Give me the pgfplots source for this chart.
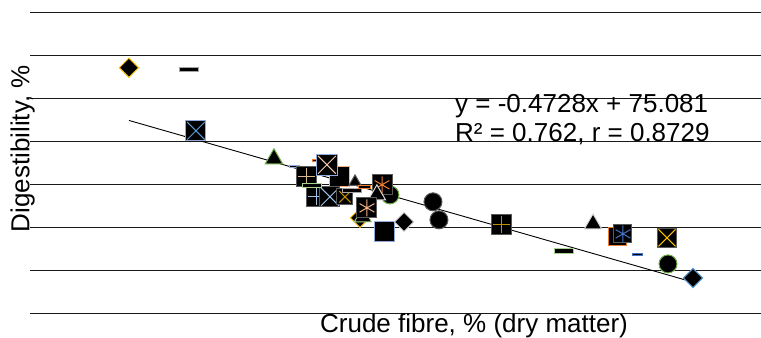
\documentclass[border=0pt]{standalone}
\usepackage{pgfplots}
\pgfplotsset{compat=1.18}
\usepackage{fontspec}
\setmainfont{Liberation Sans}
\definecolor{cgold}{HTML}{FFC000}
\definecolor{cdgold}{HTML}{BF9000}
\definecolor{corange}{HTML}{ED7D31}
\definecolor{cblue}{HTML}{4472C4}
\definecolor{clblue}{HTML}{5B9BD5}
\definecolor{cgreen}{HTML}{70AD47}
\definecolor{cgray}{HTML}{A5A5A5}
\definecolor{clgreen}{HTML}{A9D18E}
\definecolor{cpink}{HTML}{F4B183}
\definecolor{cbeige}{HTML}{F8CBAD}
\definecolor{ctan}{HTML}{D6B98C}
\definecolor{cllblue}{HTML}{9DC3E6}
\definecolor{cbgray}{HTML}{8FAADC}
\definecolor{clgray}{HTML}{D9D9D9}
\definecolor{cdgray}{HTML}{595959}
\pgfdeclareplotmark{dashmark}{%
  \pgfpathrectangle{\pgfqpoint{-\pgfplotmarksize}{-0.22\pgfplotmarksize}}{\pgfqpoint{2\pgfplotmarksize}{0.44\pgfplotmarksize}}%
  \pgfusepathqfillstroke}
\pgfplotsset{
  sq/.style={only marks, mark=square*, mark size=10bp, mark options={solid, fill=black, draw=#1, line width=1bp}},
  dm/.style={only marks, mark=square*, mark size=6.8bp, mark options={solid, rotate=45, fill=black, draw=#1, line width=1bp}},
  tr/.style={only marks, mark=triangle*, mark size=10bp, mark options={solid, fill=black, draw=#1, line width=1bp}},
  ci/.style={only marks, mark=*, mark size=9bp, mark options={solid, fill=black, draw=#1, line width=1bp}},
  ds/.style={only marks, mark=dashmark, mark size=9.5bp, mark options={solid, fill=black, draw=#1, line width=1bp}},
  xx/.style={only marks, mark=x, mark size=12.5bp, mark options={solid, draw=#1, line width=1bp}},
  pl/.style={only marks, mark=+, mark size=8.5bp, mark options={solid, draw=#1, line width=1bp}},
  as/.style={only marks, mark=asterisk, mark size=8.5bp, mark options={solid, draw=#1, line width=1bp}},
}
\begin{document}
\fontsize{26bp}{30bp}\selectfont
\begin{tikzpicture}
\begin{axis}[
  scale only axis, width=731bp, height=301.4bp,
  xmin=19.76, xmax=71.24, ymin=40, ymax=75,
  axis line style={draw=none},
  tick style={draw=none},
  major tick length=0pt,
  ytick={40,45,...,75}, yticklabels={},
  xtick=\empty,
  ymajorgrids, grid style={black!90, line width=1.2bp},
  clip=false,
]
% left outliers
\addplot[dm=cgold] coordinates {(26.73,68.57)};
\addplot[ds=cgray] coordinates {(30.96,68.34)};
\addplot[sq=cbgray] coordinates {(31.45,61.24)};
\addplot[xx=clblue] coordinates {(31.45,61.24)};
\addplot[tr=cgreen] coordinates {(36.94,57.99)};
\addplot[ds=cbgray, mark size=5bp] coordinates {(38.42,57.06)};
% cluster
\addplot[sq=cdgray] coordinates {(39.26,55.90)};
\addplot[pl=ctan] coordinates {(39.26,55.90)};
\addplot[ds=corange, mark size=6bp] coordinates {(40.10,57.80)};
\addplot[sq=cpink] coordinates {(41.59,55.90)};
\addplot[sq=cbgray, mark size=10.5bp] coordinates {(40.67,57.29)};
\addplot[xx=cbeige] coordinates {(40.67,57.29)};
\addplot[sq=cdgray] coordinates {(39.97,53.57)};
\addplot[pl=cllblue] coordinates {(39.97,53.57)};
\addplot[sq=cdgray] coordinates {(40.88,53.57)};
\addplot[xx=cllblue] coordinates {(40.88,53.57)};
\addplot[ds=clgreen] coordinates {(39.62,54.85)};
\addplot[sq=cdgray, mark size=8bp] coordinates {(41.94,53.57)};
\addplot[xx=cdgold, mark size=8bp] coordinates {(41.94,53.57)};
\addplot[tr=cdgray, mark size=7bp] coordinates {(42.65,55.31)};
\addplot[ds=cgray] coordinates {(42.43,54.27)};
\addplot[ds=corange, mark size=6bp] coordinates {(43.35,54.73)};
\addplot[ci=cgreen] coordinates {(45.11,53.80)};
\addplot[sq=cdgray] coordinates {(44.55,54.97)};
\addplot[as=corange] coordinates {(44.55,54.97)};
\addplot[tr=clgray] coordinates {(44.19,53.80)};
\addplot[dm=cgold] coordinates {(43.00,51.13)};
\addplot[tr=clgreen] coordinates {(43.21,51.24)};
\addplot[sq=cdgray] coordinates {(43.49,52.29)};
\addplot[as=cpink] coordinates {(43.49,52.29)};
\addplot[sq=cbgray] coordinates {(44.76,49.50)};
\addplot[dm=clgray] coordinates {(46.10,50.66)};
% right part
\addplot[ci=cdgray] coordinates {(48.14,52.99)};
\addplot[ci=cdgray] coordinates {(48.56,50.90)};
\addplot[sq=cdgray] coordinates {(52.93,50.31)};
\addplot[pl=cdgold] coordinates {(52.93,50.31)};
\addplot[ds=clgreen] coordinates {(57.36,47.29)};
\addplot[tr=clgray] coordinates {(59.41,50.43)};
\addplot[sq=corange, mark size=9bp] coordinates {(61.10,48.92)};
\addplot[sq=cdgray, mark size=9bp] coordinates {(61.52,49.27)};
\addplot[as=cblue] coordinates {(61.52,49.27)};
\addplot[ds=cblue, mark size=5bp] coordinates {(62.57,46.83)};
\addplot[sq=cdgray, mark size=9.5bp] coordinates {(64.62,48.80)};
\addplot[xx=cgold, mark size=12bp] coordinates {(64.62,48.80)};
\addplot[ci=cgreen] coordinates {(64.69,45.78)};
\addplot[dm=clblue] coordinates {(66.45,44.15)};
% linear trendline
\addplot[black, line width=0.9bp, no marks] coordinates {(26.73,62.443) (66.45,43.663)};
% labels
\node[anchor=base west, inner sep=0pt] at (axis cs:49.69,63.34) {y = -0.4728x + 75.081};
\node[anchor=base west, inner sep=0pt] at (axis cs:49.69,60.00) {R² = 0.762, r = 0.8729};
\node[anchor=base, inner sep=0pt] at (axis cs:51.03,37.76) {Crude fibre, \% (dry matter)};
\node[anchor=base, rotate=90, inner sep=0pt] at (axis cs:19.72,59.15) {Digestibility, \%};
\end{axis}
\pgfresetboundingbox
\path[use as bounding box] (-30bp,-24.3bp) rectangle (731bp,313.7bp);
\end{tikzpicture}
\end{document}
